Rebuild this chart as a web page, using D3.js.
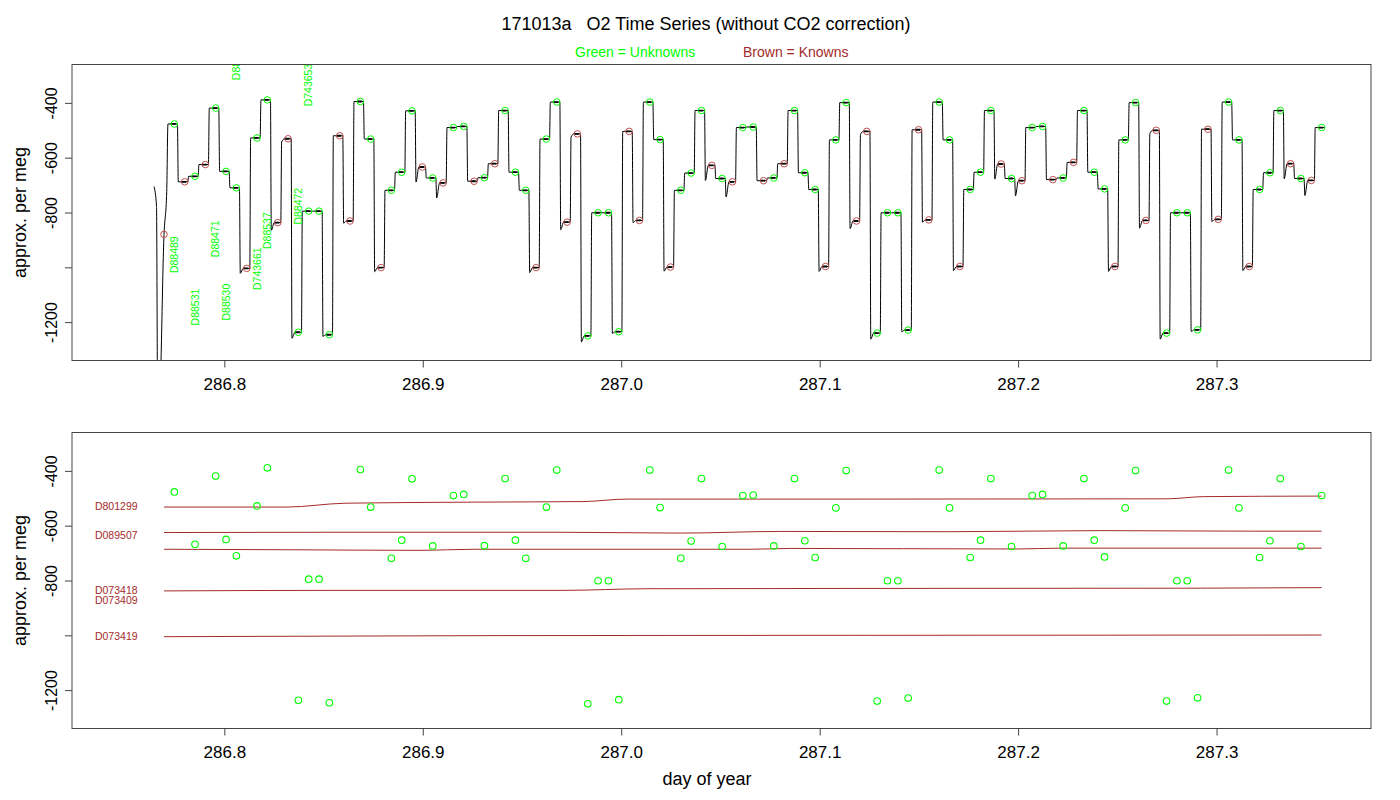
<!DOCTYPE html>
<html>
<head>
<meta charset="utf-8">
<title>171013a O2 Time Series</title>
<script src="https://cdnjs.cloudflare.com/ajax/libs/d3/7.8.5/d3.min.js"></script>
<style>
  body { margin: 0; background: #fff; }
  text { font-family: 'Liberation Sans', Arial, Helvetica, sans-serif; }
</style>
</head>
<body>
<svg id="chart" width="1400" height="800"></svg>
<script>
'use strict';

/* Data */

// one aliquot every 7.5 minutes, first one at this day of year
var firstSample = 286.7696;
var sampleStep = 7.5 / 1440;
var slotsPerCycle = 28;

// K = known (reference tank), U = unknown, per slot of the valve cycle
var cycleTypes0 = 'KUKUKUUUKUUKKUUUUKKUUKUUUKUK';
var cycleTypes = 'UUKUKUUUKUUKKUUUUKKUUKUUUKUK';

// plateau values, per meg
var cycle0 = [-880, -477, -688, -668, -625, -419, -650, -710, -1004, -528, -389, -837, -531, -1237,
              -795, -795, -1246, -520, -831, -395, -532, -1001, -719, -653, -429, -634, -674, -692];
var cycle1 = [-490, -486, -686, -673, -622, -428, -653, -719, -1001, -532, -397, -835, -513, -1250,
              -801, -801, -1235, -504, -829, -397, -534, -999, -719, -656, -428, -628, -676, -688];
var cycle2 = [-490, -488, -684, -674, -622, -428, -655, -716, -997, -535, -399, -831, -504, -1240,
              -801, -801, -1229, -498, -827, -397, -535, -997, -716, -653, -428, -623, -676, -684];
var cycle3 = [-490, -486, -680, -674, -617, -428, -653, -714, -997, -535, -399, -829, -500, -1240,
              -801, -801, -1228, -496, -825, -397, -535, -997, -716, -655, -428, -622, -676, -683];
var cycle4 = [-490];

// dip of the trace right after the valve switch (per meg below the plateau)
var settle = [0, 0, 0, 0, 0, 0, 0, 0, -18, 0, 0, -28, -12, -22,
              0, 0, -6, 0, -8, 0, 0, -15, 0, 0, 0, -55, 0, -55];

// start-up of the trace before the first cycle [day, per meg]
var startTrace = [[286.76457, -705], [286.76583, -778], [286.76640, -1500],
                  [286.76720, -1500], [286.76961, -880], [286.77097, -724]];

// unknown sample names, tagged at their first slot
var unknownNames = ['D88489', 'D88531', 'D88471', 'D88530', 'D88532', 'D743661', 'D88537', 'D88472', 'D743653'];
var unknownSlots = [1, 3, 5, 6, 7, 9, 10, 13, 14];

// smoothed reference tank values [day, per meg]
var fitA = [[286.7696, -532], [286.8316, -532], [286.8608, -518], [286.9274, -514], [286.9808, -512],
            [287.0030, -503], [287.1153, -503], [287.2751, -502], [287.2933, -494], [287.3529, -492]];
var fitB = [[286.7696, -625], [286.8533, -624], [286.9692, -624], [287.0297, -627], [287.0801, -621],
            [287.1658, -622], [287.2414, -618], [287.3170, -620], [287.3529, -620]];
var fitC = [[286.7696, -686], [286.8382, -688], [286.8986, -690], [286.9264, -686], [287.0650, -686],
            [287.0851, -683], [287.1995, -685], [287.2212, -682], [287.3529, -682]];
var fitD = [[286.7696, -838], [286.8533, -836], [286.9707, -836], [287.0131, -830], [287.1153, -829],
            [287.2918, -828], [287.3529, -826]];
var fitE = [[286.7696, -1005], [286.8533, -1003], [286.9390, -1001], [287.1153, -1000], [287.3529, -999]];
var knownFits = [fitA, fitB, fitC, fitD, fitE];

var knownNames = ['D801299', 'D089507', 'D073418', 'D073409', 'D073419'];
var knownLabelValues = [-531, -635, -834, -874, -1005];
var knownLabelDay = 286.7348;

var xTicks = [286.8, 286.9, 287.0, 287.1, 287.2, 287.3];
var yTicks = [-400, -600, -800, -1000, -1200];
var xDomain = [286.72324, 287.37782];
var yDomain = [-1340, -260];

/* Layout */
var green = '#00ff00', brown = '#a52a2a';
var plotLeft = 72, plotRight = 1371;
var panels = [{id: 'top', top: 64.5, bottom: 360.5}, {id: 'low', top: 432.5, bottom: 728.5}];
var pxDay = 1 / 1984; // one pixel in days, for the trace shape

var svg = d3.select('#chart');
var x = d3.scaleLinear().domain(xDomain).range([plotLeft, plotRight]);

// gather the samples
var samples = [];
[cycle0, cycle1, cycle2, cycle3, cycle4].forEach(function (vals, c) {
  var types = c === 0 ? cycleTypes0 : cycleTypes;
  vals.forEach(function (v, i) {
    var k = c * slotsPerCycle + i;
    samples.push({k: k, slot: i, t: firstSample + k * sampleStep, v: v, known: types[i] === 'K'});
  });
});

// the detector trace: a plateau for every aliquot
var trace = startTrace.slice();
samples.forEach(function (s) {
  if (s.k === 0) return;
  trace.push([s.t - 6.4 * pxDay, s.v + settle[s.slot]]);
  if (settle[s.slot] !== 0) trace.push([s.t - 3.5 * pxDay, s.v]);
  trace.push([s.t + 3.1 * pxDay, s.v]);
});

// title
svg.append('text')
  .attr('x', 706).attr('y', 30)
  .attr('text-anchor', 'middle')
  .style('font-size', '18px')
  .style('white-space', 'pre')
  .text('171013a   O2 Time Series (without CO2 correction)');

svg.append('text')
  .attr('x', 575).attr('y', 57)
  .attr('fill', green)
  .style('font-size', '14px')
  .text('Green = Unknowns');

svg.append('text')
  .attr('x', 743).attr('y', 57)
  .attr('fill', brown)
  .style('font-size', '14px')
  .text('Brown = Knowns');

function drawPanel(p) {
  var y = d3.scaleLinear().domain(yDomain).range([p.bottom, p.top]);
  var g = svg.append('g');

  svg.append('clipPath').attr('id', 'clip-' + p.id)
    .append('rect')
      .attr('x', plotLeft).attr('y', p.top)
      .attr('width', plotRight - plotLeft).attr('height', p.bottom - p.top);

  // x axis
  var xa = g.append('g')
    .attr('transform', 'translate(0,' + p.bottom + ')')
    .call(d3.axisBottom(x).tickValues(xTicks).tickSize(7).tickPadding(10)
      .tickFormat(d3.format('.1f')));
  xa.select('.domain').remove();
  xa.selectAll('line').attr('stroke', '#444');
  xa.selectAll('text').style('font-size', '17px').attr('fill', '#000');

  // y axis, labels parallel to the axis; -1000 is dropped like in R
  var ya = g.append('g')
    .attr('transform', 'translate(' + plotLeft + ',0)')
    .call(d3.axisLeft(y).tickValues(yTicks).tickSize(7)
      .tickFormat(function (d) { return d === -1000 ? '' : String(d); }));
  ya.select('.domain').remove();
  ya.selectAll('line').attr('stroke', '#444');
  ya.selectAll('text')
    .attr('x', null).attr('dy', null).attr('y', 0)
    .attr('text-anchor', 'middle')
    .attr('transform', 'translate(-15,0) rotate(-90)')
    .style('font-size', '16px').attr('fill', '#000');

  svg.append('text')
    .attr('transform', 'translate(26,' + (p.top + p.bottom) / 2 + ') rotate(-90)')
    .attr('text-anchor', 'middle')
    .style('font-size', '18px')
    .text('approx. per meg');

  var plot = g.append('g').attr('clip-path', 'url(#clip-' + p.id + ')');
  return {y: y, plot: plot, g: g};
}

/* top panel: raw trace */
var upper = drawPanel(panels[0]);

var valueline = d3.line()
  .curve(d3.curveMonotoneX)
  .x(function (d) { return x(d[0]); })
  .y(function (d) { return upper.y(d[1]); });

upper.plot.append('path')
  .datum(trace)
  .attr('fill', 'none')
  .attr('stroke', '#000')
  .attr('stroke-width', 1)
  .attr('d', valueline);

// averaging window of every aliquot
upper.plot.selectAll('.avg')
  .data(samples.filter(function (s) { return s.k > 0; }))
  .enter().append('line')
    .attr('class', 'avg')
    .attr('x1', function (d) { return x(d.t - 3.5 * pxDay); })
    .attr('x2', function (d) { return x(d.t + 1.5 * pxDay); })
    .attr('y1', function (d) { return upper.y(d.v); })
    .attr('y2', function (d) { return upper.y(d.v); })
    .attr('stroke', '#000')
    .attr('stroke-width', 1.8);

upper.plot.selectAll('.pt')
  .data(samples)
  .enter().append('circle')
    .attr('class', 'pt')
    .attr('cx', function (d) { return x(d.t); })
    .attr('cy', function (d) { return upper.y(d.v); })
    .attr('r', 3.3)
    .attr('fill', 'none')
    .attr('stroke', function (d) { return d.known ? '#c05050' : green; })
    .attr('stroke-width', 1);

// sample names, set off from the plateau towards the middle
upper.plot.selectAll('.name')
  .data(unknownNames)
  .enter().append('text')
    .attr('class', 'name')
    .attr('transform', function (d, i) {
      var s = samples[unknownSlots[i]];
      var ly = s.v > -700 ? s.v - 477 : s.v + 460;
      return 'translate(' + (x(s.t) + 3.7) + ',' + upper.y(ly) + ') rotate(-90)';
    })
    .attr('text-anchor', 'middle')
    .attr('fill', green)
    .style('font-size', '10.5px')
    .text(function (d) { return d; });

/* bottom panel: unknowns against the reference tanks */
var lower = drawPanel(panels[1]);

var fitline = d3.line()
  .curve(d3.curveMonotoneX)
  .x(function (d) { return x(d[0]); })
  .y(function (d) { return lower.y(d[1]); });

lower.plot.selectAll('.fit')
  .data(knownFits)
  .enter().append('path')
    .attr('class', 'fit')
    .attr('fill', 'none')
    .attr('stroke', brown)
    .attr('stroke-width', 1)
    .attr('d', fitline);

lower.plot.selectAll('.unk')
  .data(samples.filter(function (s) { return !s.known; }))
  .enter().append('circle')
    .attr('class', 'unk')
    .attr('cx', function (d) { return x(d.t); })
    .attr('cy', function (d) { return lower.y(d.v); })
    .attr('r', 3.3)
    .attr('fill', 'none')
    .attr('stroke', green)
    .attr('stroke-width', 1.1);

lower.g.selectAll('.kname')
  .data(knownNames)
  .enter().append('text')
    .attr('class', 'kname')
    .attr('x', x(knownLabelDay))
    .attr('y', function (d, i) { return lower.y(knownLabelValues[i]) + 3.7; })
    .attr('fill', brown)
    .style('font-size', '10.5px')
    .text(function (d) { return d; });

svg.append('text')
  .attr('x', 707).attr('y', 785)
  .attr('text-anchor', 'middle')
  .style('font-size', '18px')
  .text('day of year');

// boxes round the plot regions
panels.forEach(function (p) {
  svg.append('rect')
    .attr('x', plotLeft).attr('y', p.top)
    .attr('width', plotRight - plotLeft).attr('height', p.bottom - p.top)
    .attr('fill', 'none')
    .attr('stroke', '#444')
    .attr('stroke-width', 1);
});
</script>
</body>
</html>
